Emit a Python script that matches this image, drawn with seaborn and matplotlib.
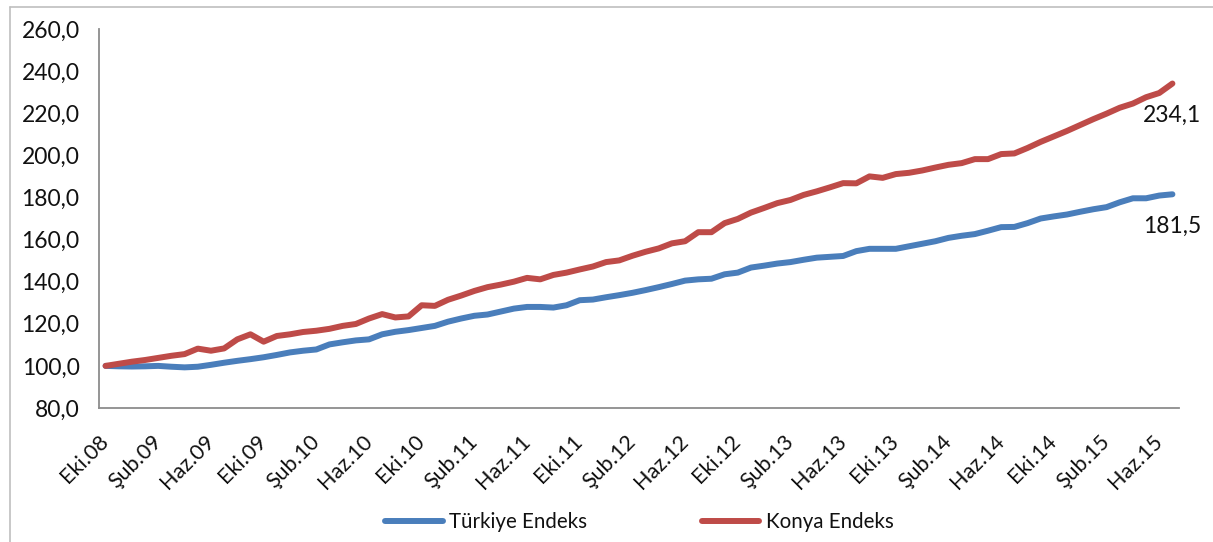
import matplotlib.pyplot as plt
from matplotlib.lines import Line2D
import seaborn as sns
import pandas as pd

# Monthly index values, Eki.08 (Oct 2008) .. Tem.15 (Jul 2015), base = 100
turkiye = [100.0, 99.8, 99.7, 99.8, 100.0, 99.6, 99.3, 99.6, 100.5, 101.5,
           102.4, 103.2, 104.1, 105.2, 106.4, 107.2, 107.8, 110.2, 111.2, 112.1,
           112.6, 115.0, 116.2, 117.0, 118.0, 119.0, 121.0, 122.5, 123.8, 124.4,
           125.8, 127.2, 128.0, 128.0, 127.7, 128.8, 131.2, 131.5, 132.6, 133.6,
           134.7, 136.0, 137.4, 138.9, 140.5, 141.1, 141.4, 143.5, 144.3, 146.7,
           147.6, 148.6, 149.3, 150.4, 151.4, 151.8, 152.2, 154.5, 155.6, 155.6,
           155.6, 156.8, 158.0, 159.2, 160.8, 161.8, 162.6, 164.2, 165.9, 166.0,
           167.8, 170.0, 171.0, 171.9, 173.2, 174.4, 175.4, 177.7, 179.6, 179.6,
           180.9, 181.5]
konya = [100.0, 101.0, 102.0, 102.8, 103.8, 104.8, 105.6, 108.2, 107.2, 108.3,
         112.6, 115.0, 111.5, 114.2, 115.0, 116.1, 116.7, 117.6, 119.0, 119.9,
         122.5, 124.6, 123.0, 123.5, 128.8, 128.5, 131.4, 133.4, 135.6, 137.4,
         138.6, 140.0, 141.8, 141.1, 143.2, 144.3, 145.8, 147.2, 149.3, 150.1,
         152.3, 154.2, 155.8, 158.2, 159.2, 163.5, 163.5, 167.8, 169.8, 172.8,
         175.0, 177.3, 178.8, 181.2, 182.9, 184.8, 186.8, 186.7, 190.0, 189.3,
         191.1, 191.7, 192.8, 194.2, 195.5, 196.3, 198.2, 198.2, 200.6, 200.9,
         203.5, 206.4, 209.0, 211.6, 214.4, 217.2, 219.8, 222.6, 224.6, 227.6,
         229.6, 234.1]

month_names = ["Oca", "Şub", "Mar", "Nis", "May", "Haz",
               "Tem", "Ağu", "Eyl", "Eki", "Kas", "Ara"]
categories = []
for k in range(len(konya)):
    m = (9 + k) % 12
    y = 8 + (9 + k) // 12
    categories.append(f"{month_names[m]}.{y:02d}")

series_names = ["Türkiye Endeks", "Konya Endeks"]
colors = ["#4A7EBB", "#BE4B48"]

df = pd.DataFrame({
    "idx": list(range(len(turkiye))) * 2,
    "value": turkiye + konya,
    "series": [series_names[0]] * len(turkiye) + [series_names[1]] * len(konya),
})

sns.set_style("white")
plt.rcParams["font.family"] = ["Lato", "DejaVu Sans"]
text_color = "#111111"

fig = plt.figure(figsize=(12.13, 5.42), dpi=100)
ax = fig.add_axes([99 / 1213, 1 - 408 / 542, (1179 - 99) / 1213, (408 - 29) / 542])

sns.lineplot(data=df, x="idx", y="value", hue="series", palette=colors,
             linewidth=4.3, ax=ax, solid_capstyle="round", solid_joinstyle="round")

ax.set_xlim(-0.5, len(konya) - 0.5)
ax.set_ylim(80, 260)
ax.set_yticks(range(80, 261, 20))
ax.set_yticklabels([f"{v:.1f}".replace(".", ",") for v in range(80, 261, 20)],
                   fontsize=16.5, color=text_color)

# labels at category centres, tick marks at category boundaries
label_pos = list(range(0, len(konya), 4))
ax.set_xticks(label_pos)
ax.set_xticklabels([categories[i] for i in label_pos], rotation=45, ha="right",
                   va="center", rotation_mode="anchor", fontsize=15.5, color=text_color)
ax.set_xticks([p - 0.5 for p in label_pos], minor=True)
ax.tick_params(axis="x", which="major", length=0, pad=22)
ax.tick_params(axis="x", which="minor", length=7, width=1.2, color="#8C8C8C", direction="out")
ax.tick_params(axis="y", length=7, width=1.2, color="#8C8C8C", direction="out", pad=7)
ax.set_xlabel("")
ax.set_ylabel("")

for side in ["top", "right"]:
    ax.spines[side].set_visible(False)
for side in ["left", "bottom"]:
    ax.spines[side].set_color("#8C8C8C")
    ax.spines[side].set_linewidth(1.3)

for vals in [konya, turkiye]:
    ax.annotate(f"{vals[-1]:.1f}".replace(".", ","), xy=(len(vals) - 1, vals[-1]),
                xytext=(0, -32), textcoords="offset pixels", ha="center", va="center",
                fontsize=16.5, color=text_color)

handles, labels = ax.get_legend_handles_labels()
ax.legend(handles, labels, loc="center", bbox_to_anchor=(0.527, 0.037),
          bbox_transform=fig.transFigure, ncol=2, frameon=False, fontsize=14.8,
          handlelength=2.8, handletextpad=0.3, columnspacing=5.6, labelcolor=text_color)

# outer chart border (left and top visible in the reference)
fig.add_artist(Line2D([10 / 1213, 10 / 1213], [0, 1 - 7 / 542], color="#BFBFBF", lw=1.2))
fig.add_artist(Line2D([10 / 1213, 1], [1 - 7 / 542, 1 - 7 / 542], color="#BFBFBF", lw=1.2))

plt.savefig("out.png", dpi=100)
print("Saved out.png")
